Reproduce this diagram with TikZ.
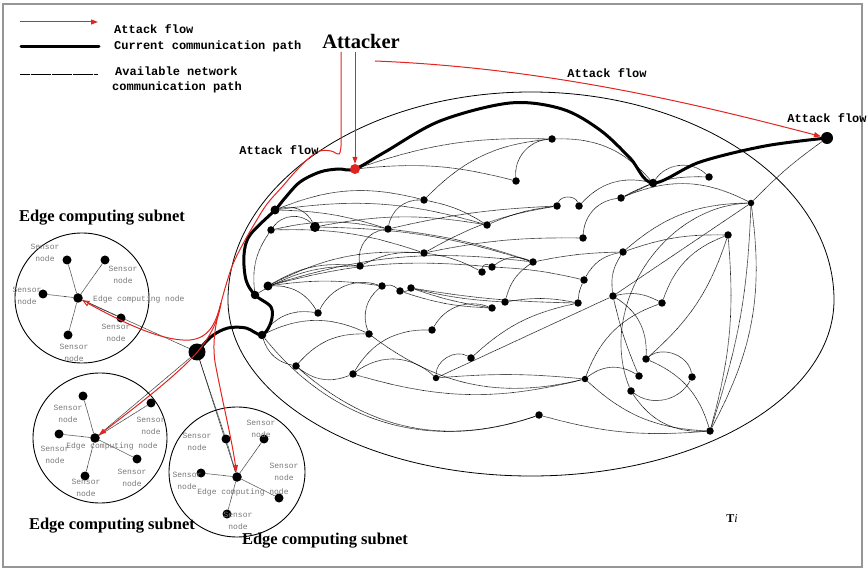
\documentclass[tikz,border=0pt]{standalone}
\usepackage{fontspec}
\setmainfont{Liberation Serif}
\newfontfamily\monofont{Liberation Mono}
\usetikzlibrary{arrows.meta}
\pgfdeclarelayer{edges}
\pgfsetlayers{edges,main}
\definecolor{atk}{RGB}{226,36,32}
\definecolor{lblgray}{RGB}{120,120,120}
\definecolor{framegray}{RGB}{150,150,150}
\tikzset{
  dot/.style={circle,fill=black,inner sep=0pt,minimum size=7.5pt},
  sensordot/.style={dot,minimum size=9pt},
  net/.style={line width=0.65pt,dash pattern=on 0.55pt off 0.5pt},
  link/.style={line width=0.65pt,dash pattern=on 0.55pt off 0.5pt,black!85},
  curpath/.style={line width=3pt,line cap=round,line join=round},
  atkline/.style={draw=atk,line width=1pt},
  atkarrow/.style={atkline,-{Triangle[length=7pt,width=5pt]}},
  atkopen/.style={atkline,-{Triangle[open,length=7pt,width=6pt]}},
  legendtxt/.style={font=\monofont\bfseries\fontsize{12}{14}\selectfont,anchor=west,inner sep=0pt},
  flowlbl/.style={font=\monofont\bfseries\fontsize{12}{14}\selectfont,inner sep=0pt},
  sensorlbl/.style={font=\monofont\fontsize{8}{11.5}\selectfont,text=lblgray,align=center,inner sep=0pt},
  subnettitle/.style={font=\bfseries\fontsize{16.5}{20}\selectfont,inner sep=0pt},
  ring/.style={line width=0.9pt},
}
\begin{document}
\begin{tikzpicture}[x=1pt,y=-1pt]
\useasboundingbox (0,0) rectangle (868,569);
\draw[framegray,line width=1.2pt] (3,4) rectangle (862,567);

% ---------- legend ----------
\coordinate (lg1a) at (20,22); \coordinate (lg1b) at (98,22);
\draw[atkarrow] (lg1a) -- (lg1b);
\node[legendtxt] (lgt1) at (114,29) {Attack flow};
\coordinate (lg2a) at (21,47); \coordinate (lg2b) at (99,47);
\draw[curpath] (lg2a) -- (lg2b);
\node[legendtxt] (lgt2) at (114,46) {Current communication path};
\coordinate (lg3a) at (20,74); \coordinate (lg3b) at (97,74);
\draw[net] (lg3a) -- (lg3b);
\node[legendtxt] (lgt3) at (115,71) {Available network};
\node[legendtxt] (lgt4) at (112,87) {communication path};

% ---------- attacker ----------
\node[font=\bfseries\fontsize{20.5}{24}\selectfont,inner sep=0pt] (attacker) at (361,41) {Attacker};
\coordinate (atk1) at (341,52);
\coordinate (atk2) at (355,52);
\coordinate (atk3) at (375,61);

% ---------- network region ----------
\draw[line width=0.8pt] (228,300) arc[start angle=180,end angle=360,x radius=303,y radius=208]
                       arc[start angle=0,end angle=180,x radius=303,y radius=176];

\node[dot] (n1) at (516,181) {};
\node[dot] (n2) at (424,200) {};
\node[dot] (n3) at (487,225) {};
\node[dot,minimum size=9pt] (t1) at (275,210) {};
\node[dot] (n4) at (271,230) {};
\node[dot,minimum size=10pt] (n5) at (315,227) {};
\node[dot] (n6) at (388,229) {};
\node[dot] (n7) at (424,253) {};
\node[dot] (n8) at (360,266) {};
\node[dot] (n9) at (533,262) {};
\node[dot] (n10) at (482,272) {};
\node[dot] (n11) at (492,267) {};
\node[dot,minimum size=9pt] (t2) at (268,286) {};
\node[dot,minimum size=8.5pt] (t3) at (255,295) {};
\node[dot] (n12) at (382,286) {};
\node[dot] (n13) at (400,291) {};
\node[dot] (n14) at (411,288) {};
\node[dot] (n15) at (318,313) {};
\node[dot] (n16) at (492,308) {};
\node[dot] (n17) at (505,302) {};
\node[dot] (n18) at (552,139) {};
\node[dot,minimum size=8.5pt] (t4) at (653,183) {};
\node[dot] (n19) at (709,177) {};
\node[dot] (n20) at (557,206) {};
\node[dot] (n21) at (579,206) {};
\node[dot] (n22) at (621,198) {};
\node[dot,minimum size=6.5pt] (n23) at (751,203) {};
\node[dot] (n24) at (583,238) {};
\node[dot] (n25) at (728,235) {};
\node[dot] (n26) at (623,252) {};
\node[dot] (n27) at (584,280) {};
\node[dot] (n28) at (578,303) {};
\node[dot] (n29) at (613,296) {};
\node[dot] (n30) at (662,303) {};
\node[dot,minimum size=8.5pt] (t5) at (262,335) {};
\node[dot] (n31) at (369,334) {};
\node[dot] (n32) at (432,330) {};
\node[dot] (n33) at (471,358) {};
\node[dot] (n34) at (296,366) {};
\node[dot] (n35) at (353,374) {};
\node[dot,minimum size=6.5pt] (n36) at (436,378) {};
\node[dot,minimum size=6.5pt] (n37) at (585,379) {};
\node[dot] (n38) at (539,415) {};
\node[dot] (n39) at (646,359) {};
\node[dot] (n40) at (639,376) {};
\node[dot] (n41) at (692,377) {};
\node[dot] (n42) at (631,391) {};
\node[dot] (n43) at (710,431) {};
\node[dot,minimum size=12pt] (big) at (827,138) {};
\node[dot,minimum size=17pt] (hub) at (197,352) {};
\node[circle,fill=atk,inner sep=0pt,minimum size=10pt] (red) at (355,169) {};

\begin{pgfonlayer}{edges}
\foreach \a/\b/\s in {red/n18/10, red/n1/10, n1/n18/45, t1/n2/18, t1/n5/40, t1/n3/12,
  t1/n6/8, n4/n5/50, n4/n6/12, n4/n7/10, n5/n3/10, n5/n9/8, n2/n18/20, n2/n3/10,
  n6/n2/40, n8/n6/45, n6/n9/6, n7/n20/10, n7/n24/6, n7/n10/10, t2/n8/18, t2/n12/8,
  t2/n7/15, t2/n11/10, t2/n9/12, t2/n15/30, t3/n4/20, t3/n8/15, n8/n7/15,
  n12/n13/25, n13/n14/-25, n10/n11/60, n11/n9/30, n13/n16/-8, n14/n16/-5,
  n14/n17/-5, n14/n28/-4, n15/n12/40, t5/n15/30, n17/n9/20, n3/n20/8, n11/n27/5,
  n18/t4/25, t4/n19/50, t4/n22/0, n19/n22/-15, n20/n21/70, n21/t4/30, n6/n20/5,
  n24/n22/40, n26/n23/20, n9/n26/5, n27/n26/25, n28/n27/10, n17/n28/10,
  n22/n23/25, n26/n25/10, n30/n25/25, n29/n26/20, n30/n29/-20, n39/n41/60,
  n39/n43/25, n42/n41/-50, n42/n43/-30, n40/n29/5, n37/n30/25, n37/n40/35,
  n37/n43/-20, n38/n43/-10, n29/n39/30, n43/n23/-8, n23/n43/18, n43/n25/-10,
  n39/n25/-15, n42/n23/55, t5/n31/25, t5/n34/-30, n34/n31/25, n34/n35/-30,
  n34/n38/-30, n35/n32/30, n35/n36/40, n35/n37/-15, n31/n37/-25, n31/n12/35,
  n32/n16/40, n33/n36/-60, n33/n28/15, n36/n37/5, t5/n38/-35, big/n23/-5}
  \draw[net] (\a) to[bend left=\s] (\b);
\draw[net] (n36) -- (n29) -- (n23);

% current communication path
\draw[curpath] plot[smooth,tension=0.55] coordinates {(hub.center) (212,336) (228,328)
  (246,328) (t5.center) (271,322) (271,307) (t3.center) (246,280) (244,255) (250,235)
  (t1.center) (285,198) (300,182) (320,172) (338,169) (red.center) (385,152) (440,121)
  (510,103) (562,109) (600,130) (630,158) (t4.center) (700,162) (765,146) (big.center)};
\end{pgfonlayer}

% ---------- edge computing subnets ----------
\draw[ring] (82,298) ellipse[x radius=67,y radius=65];
\node[sensordot,minimum size=9.5pt] (h1) at (78,298) {};
\node[sensordot] (s11) at (67,260) {};
\node[sensordot] (s12) at (105,260) {};
\node[sensordot] (s13) at (43,294) {};
\node[sensordot] (s14) at (121,318) {};
\node[sensordot] (s15) at (68,335) {};
\node[sensorlbl] (l11) at (45,253) {Sensor\\node};
\node[sensorlbl] (l12) at (123,275) {Sensor\\node};
\node[sensorlbl] (l13) at (27,296) {Sensor\\node};
\node[sensorlbl] (l14) at (116,333) {Sensor\\node};
\node[sensorlbl] (l15) at (74,353) {Sensor\\node};
\node[sensorlbl,anchor=west] (e1) at (93,299) {Edge computing node};
\node[subnettitle] (st1) at (102,218) {Edge computing subnet};

\draw[ring] (100,438) ellipse[x radius=67,y radius=65];
\node[sensordot,minimum size=9.5pt] (h2) at (95,438) {};
\node[sensordot] (s21) at (83,396) {};
\node[sensordot] (s22) at (151,403) {};
\node[sensordot] (s23) at (59,434) {};
\node[sensordot] (s24) at (137,459) {};
\node[sensordot] (s25) at (85,476) {};
\node[sensorlbl] (l21) at (68,414) {Sensor\\node};
\node[sensorlbl] (l22) at (151,426) {Sensor\\node};
\node[sensorlbl] (l23) at (55,455) {Sensor\\node};
\node[sensorlbl] (l24) at (132,478) {Sensor\\node};
\node[sensorlbl] (l25) at (86,488) {Sensor\\node};
\node[sensorlbl] (e2) at (112,446) {Edge computing node};
\node[subnettitle] (st2) at (112,526) {Edge computing subnet};

\draw[ring] (237,472) ellipse[x radius=68,y radius=65];
\node[sensordot,minimum size=9.5pt] (h3) at (237,477) {};
\node[sensordot] (s31) at (226,439) {};
\node[sensordot] (s32) at (264,439) {};
\node[sensordot] (s33) at (201,473) {};
\node[sensordot] (s34) at (279,498) {};
\node[sensordot] (s35) at (227,514) {};
\node[sensorlbl] (l31) at (197,442) {Sensor\\node};
\node[sensorlbl] (l32) at (261,429) {Sensor\\node};
\node[sensorlbl] (l33) at (187,481) {Sensor\\node};
\node[sensorlbl] (l34) at (284,472) {Sensor\\node};
\node[sensorlbl] (l35) at (238,521) {Sensor\\node};
\node[sensorlbl] (e3) at (243,492) {Edge computing node};
\node[subnettitle] (st3) at (325,541) {Edge computing subnet};

\begin{pgfonlayer}{edges}
\foreach \s in {s11,s12,s13,s14,s15} \draw[link] (h1) -- (\s);
\foreach \s in {s21,s22,s23,s24,s25} \draw[link] (h2) -- (\s);
\foreach \s in {s31,s32,s33,s34,s35} \draw[link] (h3) -- (\s);
\draw[link] (h1) -- (hub);
\draw[link] (h2) -- (hub);
\draw[link] (hub) -- (h3);
\draw[link] (hub) -- (s31);
\end{pgfonlayer}

% ---------- attack flows ----------
\coordinate (split) at (221,303);
\draw[atkline] (atk1) -- (341,146) -- plot[smooth,tension=0.6] coordinates {(341,146)
  (339,154) (331,151) (320,151) (309,158) (295,172) (282,187) (267,204) (255,223)
  (244,242) (233,264) (226,285) (split)};
\draw[atkopen] (split) .. controls (216,322) and (210,338) .. (190,340)
  .. controls (160,342) and (115,318) .. (h1);
\draw[atkarrow] (split) .. controls (218,325) and (205,345) .. (190,360)
  .. controls (165,385) and (125,415) .. (h2);
\draw[atkarrow] (split) .. controls (216,322) and (212,340) .. (215,362)
  .. controls (222,400) and (232,440) .. (h3);
\draw[atkarrow] (atk2) -- (red);
\draw[atkarrow] (atk3) .. controls (550,68) and (700,105) .. (big);

\node[flowlbl] (f1) at (279,150) {Attack flow};
\node[flowlbl] (f2) at (607,73) {Attack flow};
\node[flowlbl] (f3) at (827,118) {Attack flow};

\node[font=\fontsize{12}{14}\selectfont,inner sep=0pt] (ti) at (732,519) {\textbf{T}\textit{i}};
\end{tikzpicture}
\end{document}
